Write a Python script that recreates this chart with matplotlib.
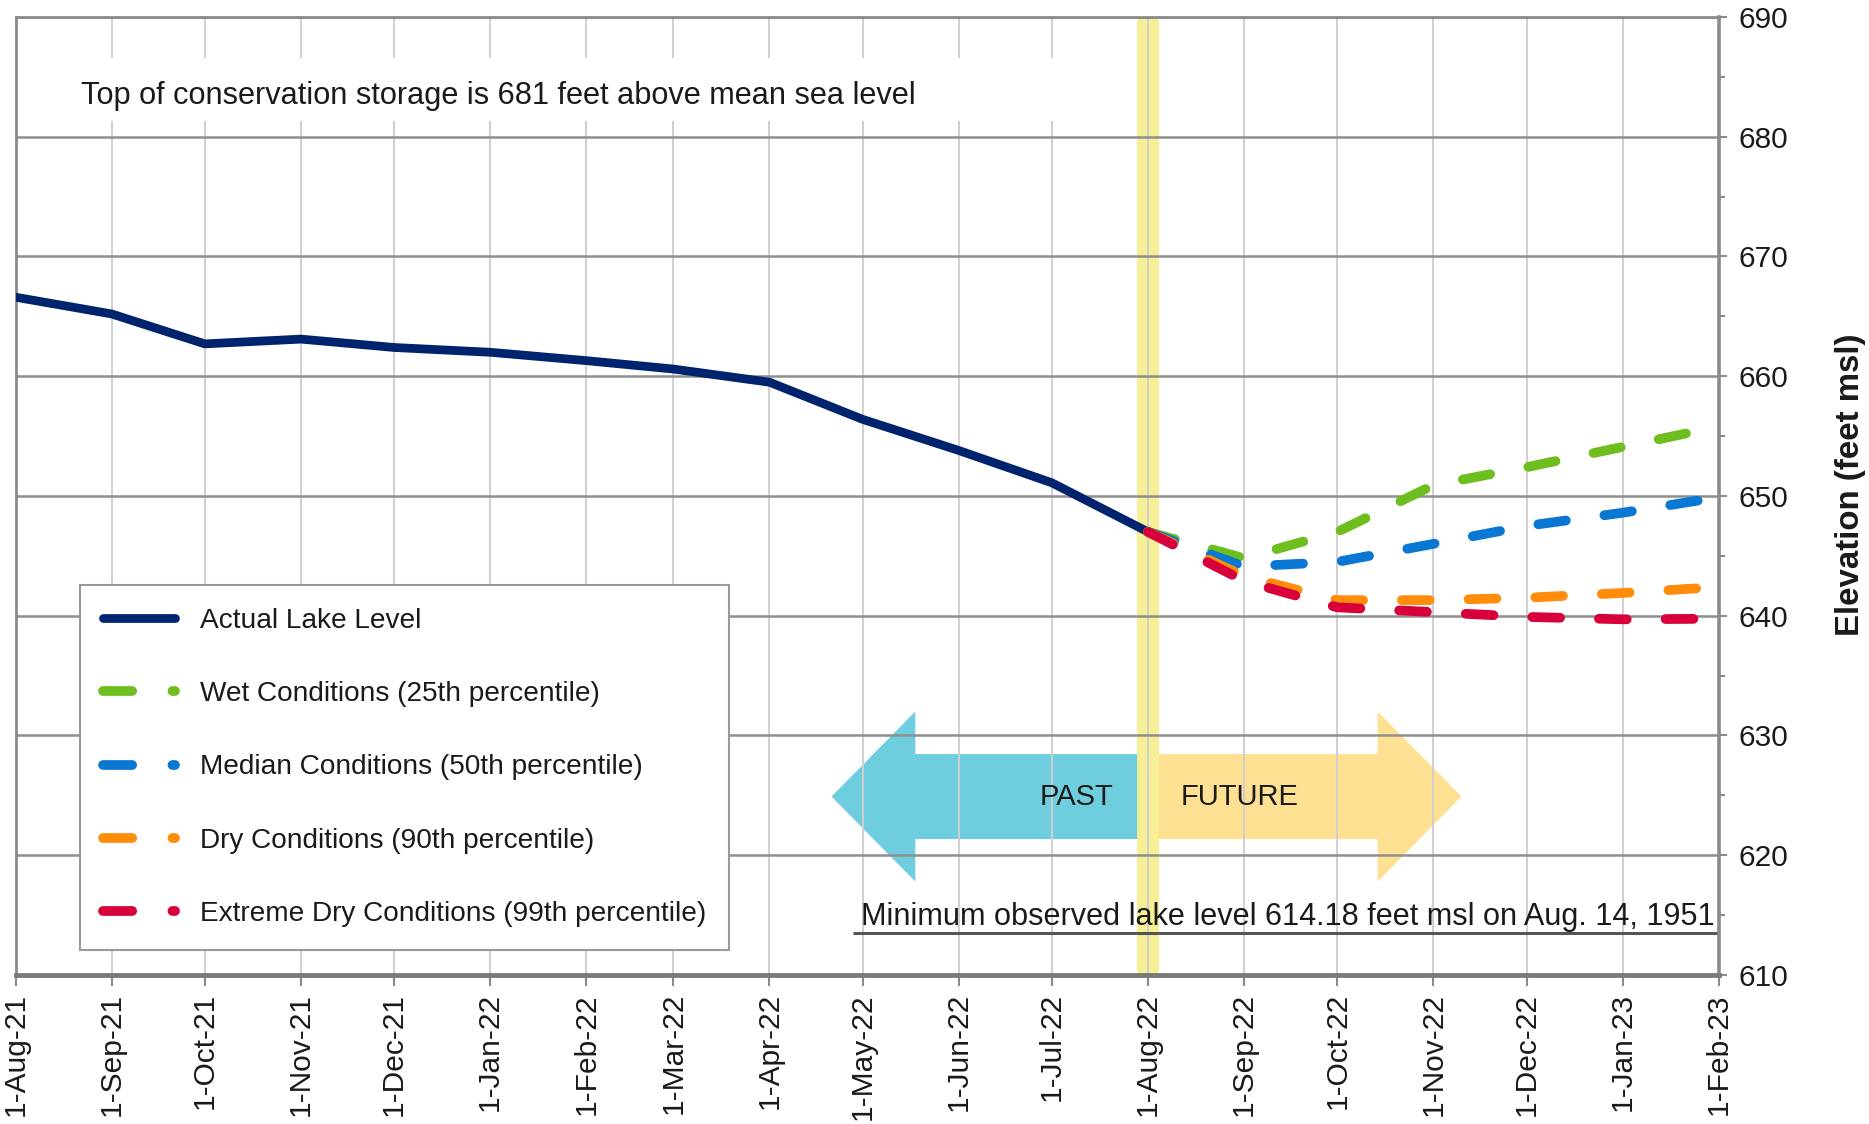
import matplotlib
matplotlib.use('Agg')
import matplotlib.pyplot as plt
import matplotlib.dates as mdates
from matplotlib.patches import Polygon, Rectangle
from matplotlib.lines import Line2D
from matplotlib.ticker import MultipleLocator
from datetime import datetime

plt.rcParams['font.family'] = ['Liberation Sans', 'DejaVu Sans']
plt.rcParams['lines.scale_dashes'] = False

# ---------------- data ----------------
actual_dates = ['2021-08-01', '2021-09-01', '2021-10-01', '2021-11-01', '2021-12-01',
                '2022-01-01', '2022-02-01', '2022-03-01', '2022-04-01', '2022-05-01',
                '2022-06-01', '2022-07-01', '2022-08-01']
actual_level = [666.6, 665.2, 662.7, 663.1, 662.4, 662.0, 661.3, 660.6, 659.5,
                656.4, 653.8, 651.1, 647.0]

proj_dates = ['2022-08-01', '2022-09-01', '2022-10-01', '2022-11-01', '2022-12-01',
              '2023-01-01', '2023-02-01']
wet_level = [647.0, 644.8, 647.0, 650.9, 652.4, 654.1, 655.8]
median_level = [647.0, 644.1, 644.5, 646.0, 647.5, 648.6, 649.9]
dry_level = [647.0, 643.3, 641.3, 641.3, 641.5, 641.9, 642.4]
extreme_level = [647.0, 642.9, 640.7, 640.3, 639.9, 639.7, 639.75]

tick_dates = ['2021-08-01', '2021-09-01', '2021-10-01', '2021-11-01', '2021-12-01',
              '2022-01-01', '2022-02-01', '2022-03-01', '2022-04-01', '2022-05-01',
              '2022-06-01', '2022-07-01', '2022-08-01', '2022-09-01', '2022-10-01',
              '2022-11-01', '2022-12-01', '2023-01-01', '2023-02-01']
tick_labels = ['1-Aug-21', '1-Sep-21', '1-Oct-21', '1-Nov-21', '1-Dec-21', '1-Jan-22',
               '1-Feb-22', '1-Mar-22', '1-Apr-22', '1-May-22', '1-Jun-22', '1-Jul-22',
               '1-Aug-22', '1-Sep-22', '1-Oct-22', '1-Nov-22', '1-Dec-22', '1-Jan-23',
               '1-Feb-23']
y_ticks = [610, 620, 630, 640, 650, 660, 670, 680, 690]

series_labels = ['Wet Conditions (25th percentile)', 'Median Conditions (50th percentile)',
                 'Dry Conditions (90th percentile)', 'Extreme Dry Conditions (99th percentile)']
series_colors = ['#6DBE1E', '#0A78D2', '#FF8C0A', '#D8003A']
actual_color = '#00236E'

min_level = 614.18
top_storage = 681


def d(s):
    return datetime.strptime(s, '%Y-%m-%d')


def dn(s):
    return mdates.date2num(d(s))


# ---------------- figure ----------------
fig = plt.figure(figsize=(18.69, 11.24), dpi=100)
ax = fig.add_axes([0.0083, 0.1326, 0.9114, 0.8523])
ax.set_axisbelow(True)

ax.set_xlim(d(tick_dates[0]), d(tick_dates[-1]))
ax.set_ylim(y_ticks[0], y_ticks[-1])

# "present" band
band_l, band_r = dn('2022-07-28') + 0.5, dn('2022-08-04') + 0.5
ax.axvspan(band_l, band_r, color='#F6EF96', zorder=0.4, lw=0)

# PAST / FUTURE arrows
yc, bh, hh = 624.9, 3.55, 7.1
left_tip, left_base = dn('2022-04-21'), dn('2022-05-18')
right_base, right_tip = dn('2022-10-14'), dn('2022-11-10')
past_arrow = Polygon([(left_tip, yc), (left_base, yc + hh), (left_base, yc + bh),
                      (band_l, yc + bh), (band_l, yc - bh), (left_base, yc - bh),
                      (left_base, yc - hh)], closed=True, facecolor='#6FCEDD',
                     edgecolor='none', zorder=0.45)
future_arrow = Polygon([(band_r, yc + bh), (right_base, yc + bh), (right_base, yc + hh),
                        (right_tip, yc), (right_base, yc - hh), (right_base, yc - bh),
                        (band_r, yc - bh)], closed=True, facecolor='#FDE092',
                       edgecolor='none', zorder=0.45)
ax.add_patch(past_arrow)
ax.add_patch(future_arrow)
ax.annotate('PAST', xy=(band_l, yc), xytext=(-17, 0), textcoords='offset points',
            ha='right', va='center', fontsize=21, color='#1a1a1a', zorder=5)
ax.annotate('FUTURE', xy=(band_r, yc), xytext=(16, 0), textcoords='offset points',
            ha='left', va='center', fontsize=21, color='#1a1a1a', zorder=5)

# white box behind the top text
ax.add_patch(Rectangle((dn('2021-08-01'), 681.3), dn('2022-07-20') - dn('2021-08-01'), 5.3,
                       facecolor='white', edgecolor='none', zorder=0.6))
ax.text(d('2021-08-22'), 682.75,
        'Top of conservation storage is %d feet above mean sea level' % top_storage,
        fontsize=22.15, color='#1a1a1a', ha='left', va='baseline', zorder=5)

# minimum observed level
ax.hlines(min_level - 0.65, dn('2022-04-28'), dn(tick_dates[-1]), color='#555555', lw=2.2,
          zorder=2)
ax.annotate('Minimum observed lake level %.2f feet msl on Aug. 14, 1951' % min_level,
            xy=(d(tick_dates[-1]), min_level), xytext=(-3, 0), textcoords='offset points',
            ha='right', va='baseline', fontsize=22.1, color='#1a1a1a', zorder=5)

# lines
ad = [d(s) for s in actual_dates]
pdts = [d(s) for s in proj_dates]
ax.plot(ad, actual_level, color=actual_color, lw=6.3, solid_capstyle='round',
        solid_joinstyle='round', zorder=3)
dash = (20, 28)
for vals, col in zip([wet_level, median_level, dry_level, extreme_level], series_colors):
    ax.plot(pdts, vals, color=col, lw=7, dashes=dash, dash_capstyle='round', zorder=4)

# axes styling
ax.set_xticks([d(s) for s in tick_dates])
ax.set_xticklabels(tick_labels, rotation=90)
ax.set_yticks(y_ticks)
ax.yaxis.set_minor_locator(MultipleLocator(5))
ax.yaxis.tick_right()
ax.yaxis.set_label_position('right')
ax.tick_params(axis='x', which='major', length=8, width=1.5, color='#8a8a8a',
               labelsize=21.5, labelcolor='#1a1a1a', pad=5)
ax.tick_params(axis='y', which='major', length=6, width=1.5, color='#8a8a8a',
               labelsize=21.5, labelcolor='#1a1a1a', pad=8)
ax.tick_params(axis='y', which='minor', length=4, width=1.5, color='#8a8a8a')
ax.grid(axis='y', which='major', color='#8f8f8f', lw=1.8)
ax.grid(axis='x', which='major', color='#cfcfcf', lw=1.4)
for side in ['left', 'top', 'right']:
    ax.spines[side].set_color('#8a8a8a')
    ax.spines[side].set_linewidth(2)
ax.spines['right'].set_linewidth(2.6)
ax.spines['bottom'].set_color('#7a7a7a')
ax.spines['bottom'].set_linewidth(3.5)

ax.set_ylabel('Elevation (feet msl)', fontsize=23.8, fontweight='bold', color='#1a1a1a')
ax.yaxis.set_label_coords(1.068, 0.512)

# legend
handles = [Line2D([0], [0], color=actual_color, lw=6.3, solid_capstyle='round')]
for col in series_colors:
    handles.append(Line2D([0], [0], color=col, lw=7, dashes=(21, 29), dash_capstyle='round'))
labels = ['Actual Lake Level'] + series_labels
leg = ax.legend(handles, labels, loc='lower left', bbox_to_anchor=(0.0379, 0.026),
                borderaxespad=0, fontsize=20.2, frameon=True, fancybox=False,
                handlelength=2.55, handletextpad=0.9, labelspacing=1.685, borderpad=0.82)
leg.get_frame().set_edgecolor('#9a9a9a')
leg.get_frame().set_linewidth(1.5)
leg.get_frame().set_alpha(1)
for t in leg.get_texts():
    t.set_color('#1a1a1a')
leg.set_zorder(6)

fig.savefig('out.png', dpi=100)
